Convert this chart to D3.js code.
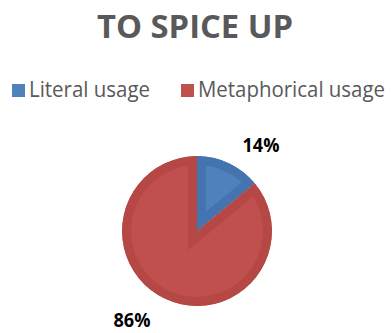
<!DOCTYPE html>
<html><head><meta charset="utf-8">
<script src="https://cdn.jsdelivr.net/npm/d3@7"></script>
<style>html,body{margin:0;padding:0;background:#fff;}svg{display:block;}</style>
</head><body>
<svg id="c" width="391" height="333"></svg>
<script>
const categories = ["Literal usage", "Metaphorical usage"];
const values = [14, 86];
const labels = ["14%", "86%"];
const fills = ["#4f81bd", "#c0504d"];
const borders = ["#4474b0", "#b54744"];
const title = "TO SPICE UP";

const svg = d3.select("#c");
const font = "'Open Sans', 'Noto Sans', sans-serif";

// Title
svg.append("text").attr("x", 195).attr("y", 38)
  .attr("text-anchor", "middle").attr("font-family", font)
  .attr("font-weight", 700).attr("font-size", 32).attr("fill", "#595959")
  .attr("textLength", 196).attr("lengthAdjust", "spacingAndGlyphs")
  .text(title);

// Legend
const legX = [12, 181];
const legW = [121, 187];
const leg = svg.append("g");
categories.forEach((c, i) => {
  leg.append("rect").attr("x", legX[i]).attr("y", 84).attr("width", 13).attr("height", 13).attr("fill", fills[i]);
  leg.append("text").attr("x", legX[i] + 17).attr("y", 96.5)
    .attr("font-family", font).attr("font-size", 21).attr("fill", "#595959")
    .attr("textLength", legW[i]).attr("lengthAdjust", "spacingAndGlyphs")
    .text(c);
});

// Pie
const cx = 197, cy = 231, r = 75;
const pie = d3.pie().sort(null).value(d => d)(values);
const arc = d3.arc().innerRadius(0).outerRadius(r);
const g = svg.append("g").attr("transform", `translate(${cx},${cy})`);
const defs = svg.append("defs");
pie.forEach((p, i) => {
  defs.append("clipPath").attr("id", "clip" + i).append("path").attr("d", arc(p));
  g.append("path").attr("d", arc(p)).attr("fill", fills[i])
    .attr("stroke", borders[i]).attr("stroke-width", 18).attr("stroke-linejoin", "miter")
    .attr("clip-path", `url(#clip${i})`);
});

// Data labels
const labelPos = [[261, 152], [132, 327]];
labels.forEach((t, i) => {
  svg.append("text").attr("x", labelPos[i][0]).attr("y", labelPos[i][1])
    .attr("text-anchor", "middle").attr("font-family", font)
    .attr("font-weight", 700).attr("font-size", 19).attr("fill", "#000")
    .attr("textLength", 37).attr("lengthAdjust", "spacingAndGlyphs")
    .text(t);
});
</script>
</body></html>
